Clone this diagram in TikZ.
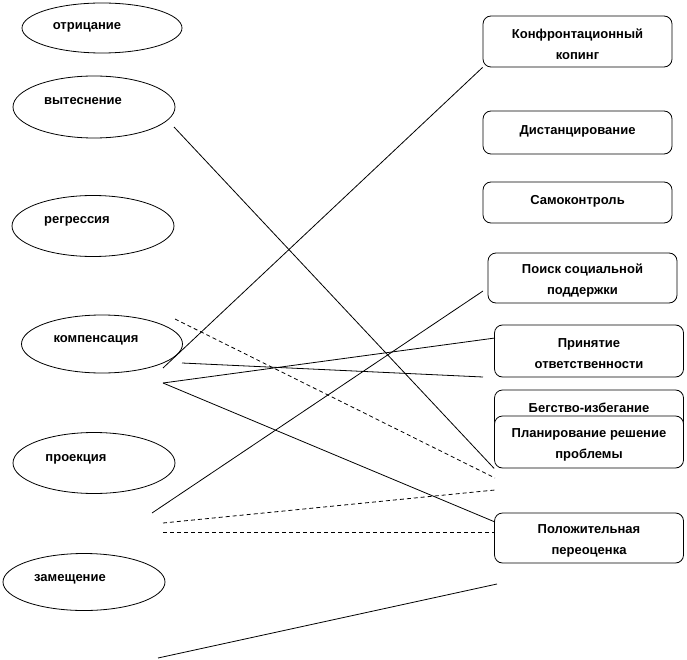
\documentclass[tikz,border=0pt]{standalone}
\usepackage{fontspec}
\setmainfont{Liberation Sans}
\usepackage{tikz}
\usetikzlibrary{shapes.geometric}
\tikzset{defense/.style={draw,ellipse,inner sep=0pt,line width=0.8pt}}
\tikzset{deflabel/.style={font=\bfseries\fontsize{13}{21}\selectfont,inner sep=0pt}}
\tikzset{coping/.style={draw,rounded corners=8pt,line width=0.8pt,fill=white,minimum width=189pt,align=center,inner sep=0pt,text height=36pt,font=\bfseries\fontsize{13}{21}\selectfont}}
\tikzset{oneline/.style={text height=14pt,text depth=10pt}}
\tikzset{link/.style={line width=0.8pt}}
\tikzset{dlink/.style={line width=0.8pt,dash pattern=on 4pt off 3pt}}

\begin{document}
\begin{tikzpicture}[x=1pt,y=-1pt]
  \useasboundingbox (0,0) rectangle (687,660);
  \node[defense,minimum width=160pt,minimum height=50pt] (otr) at (102,28) {};
  \node[defense,minimum width=162pt,minimum height=62pt] (vyt) at (94,107) {};
  \node[defense,minimum width=162pt,minimum height=61pt] (reg) at (93,226) {};
  \node[defense,minimum width=161pt,minimum height=58pt] (komp) at (102,344) {};
  \node[defense,minimum width=162pt,minimum height=61pt] (proj) at (94,463) {};
  \node[defense,minimum width=162pt,minimum height=57pt] (zam) at (84,582) {};
  \node[deflabel] (otr-t) at (87,27) {отрицание};
  \node[deflabel] (vyt-t) at (83,101) {вытеснение};
  \node[deflabel] (reg-t) at (77,221) {регрессия};
  \node[deflabel] (komp-t) at (96,340) {компенсация};
  \node[deflabel] (proj-t) at (76,459) {проекция};
  \node[deflabel] (zam-t) at (70,579) {замещение};

  \node[coping,minimum height=51pt] (conf) at (577.5,41.5) {Конфронтационный\\копинг};
  \node[coping,oneline,minimum height=43pt] (dist) at (577.5,132.5) {Дистанцирование};
  \node[coping,oneline,minimum height=41pt] (self) at (577.5,202.5) {Самоконтроль};
  \node[coping,minimum height=50pt] (supp) at (582.5,278) {Поиск социальной\\поддержки};
  \node[coping,minimum height=52pt] (resp) at (589,351) {Принятие\\ответственности};
  \node[coping,oneline,minimum height=40pt] (escp) at (589,410) {Бегство-избегание};
  \node[coping,minimum height=52pt] (plan) at (589,442) {Планирование решение\\проблемы};
  \node[coping,minimum height=50pt] (reap) at (589,538) {Положительная\\переоценка};

  \coordinate (k1) at (163,368);
  \coordinate (v1) at (174,127);
  \coordinate (k2) at (175,319);
  \coordinate (p1) at (495,478);
  \coordinate (k3) at (182,363);
  \coordinate (r1) at (483,377);
  \coordinate (k4) at (163,383);
  \coordinate (r2) at (495,338);
  \coordinate (r3) at (495,522);
  \coordinate (p2) at (152,513);
  \coordinate (s1) at (483,291);
  \coordinate (p3) at (163,523);
  \coordinate (p4) at (495,490);
  \coordinate (p5) at (163,532);
  \coordinate (r4) at (495,532);
  \coordinate (z1) at (158,658);
  \coordinate (z2) at (497,584);

  \draw[link] (k1) -- (conf.south west);
  \draw[link] (v1) -- (plan.south west);
  \draw[dlink] (k2) -- (p1);
  \draw[link] (k3) -- (r1);
  \draw[link] (k4) -- (r2);
  \draw[link] (k4) -- (r3);
  \draw[link] (p2) -- (s1);
  \draw[dlink] (p3) -- (p4);
  \draw[dlink] (p5) -- (r4);
  \draw[link] (z1) -- (z2);
\end{tikzpicture}
\end{document}
